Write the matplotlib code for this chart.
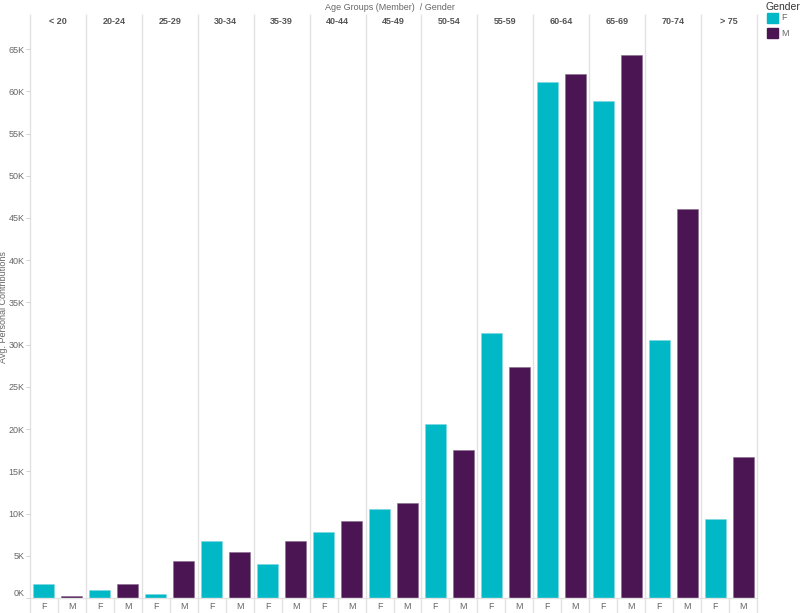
import numpy as np
import matplotlib
matplotlib.use("Agg")
import matplotlib.pyplot as plt
from matplotlib.patches import Rectangle

plt.rcParams['font.family'] = ['Liberation Sans', 'DejaVu Sans']

age_groups = ["< 20", "20-24", "25-29", "30-34", "35-39", "40-44", "45-49",
              "50-54", "55-59", "60-64", "65-69", "70-74", "> 75"]
female = [1.65, 0.95, 0.5, 6.8, 4.05, 7.8, 10.5, 20.6, 31.4, 61.05, 58.8, 30.5, 9.35]
male = [0.2, 1.6, 4.35, 5.45, 6.8, 9.1, 11.3, 17.5, 27.4, 62.1, 64.3, 46.1, 16.7]
female = np.array(female) * 1000
male = np.array(male) * 1000

teal = "#00B8C6"
purple = "#4A1552"
grid_c = "#e2e2e2"
text_c = "#666666"

W, H = 800, 613
fig = plt.figure(figsize=(W / 100, H / 100), dpi=100)
y0, y1 = 598, 28
ax = fig.add_axes([30 / W, (H - y0) / H, 727 / W, (y0 - y1) / H])

n = len(age_groups)
idx = np.arange(n)
ax.bar(idx * 2 + 0.5, female, width=0.75, color=teal, edgecolor="#7fd6de", linewidth=0.4)
ax.bar(idx * 2 + 1.5, male, width=0.75, color=purple, edgecolor="#8a6a90", linewidth=0.4)

ax.set_xlim(0, 2 * n)
ax.set_ylim(0, 67500)

for s in ["top", "right", "left"]:
    ax.spines[s].set_visible(False)
ax.spines["bottom"].set_color(grid_c)
ax.spines["bottom"].set_linewidth(1)

# y axis
yt = np.arange(0, 65001, 5000)
ax.set_yticks(yt)
ax.set_yticklabels([f"{int(v / 1000)}K" for v in yt])
ax.tick_params(axis="y", length=3, width=0.6, color="#cccccc", labelsize=6.5,
               labelcolor=text_c, pad=1)
ax.get_yticklabels()[0].set_va("bottom")
ax.set_ylabel("Avg. Personal Contributions", fontsize=6.5, color=text_c)
ax.yaxis.set_label_coords(-22.5 / 727, 0.51)

# x labels F / M
ax.set_xticks(np.concatenate([idx * 2 + 0.5, idx * 2 + 1.5]))
ax.set_xticklabels(["F"] * n + ["M"] * n)
ax.tick_params(axis="x", length=0, labelsize=6.5, labelcolor=text_c, pad=3)

# panel separators
tr = ax.get_xaxis_transform()
top_frac = (y0 - 14) / (y0 - y1)
bot_frac = (y0 - H) / (y0 - y1)
ax.vlines(np.arange(0, 2 * n + 1, 2), bot_frac, top_frac, transform=tr,
          colors=grid_c, linewidth=1, clip_on=False, zorder=0)
ax.vlines(np.arange(1, 2 * n, 2), bot_frac, 0, transform=tr,
          colors=grid_c, linewidth=1, clip_on=False, zorder=0)

# panel headers
hdr_y = (y0 - 21) / (y0 - y1)
for i, g in enumerate(age_groups):
    ax.text(2 * i + 1, hdr_y, g, transform=tr, ha="center", va="center",
            fontsize=6.5, fontweight="bold", color="#555555")

fig.text(390 / W, 1 - 7 / H, "Age Groups (Member)  / Gender", ha="center", va="center",
         fontsize=6.5, color=text_c)

# legend
fig.text(765 / W, 1 - 7 / H, "Gender", ha="left", va="center", fontsize=7.5, color="#333333")
for k, (lab, c) in enumerate([("F", teal), ("M", purple)]):
    yc = 18 + k * 15
    fig.add_artist(Rectangle((767 / W, 1 - (yc + 5) / H), 11 / W, 10 / H,
                             transform=fig.transFigure, color=c))
    fig.text(781 / W, 1 - yc / H, lab, ha="left", va="center", fontsize=6.5, color=text_c)

fig.savefig("out.png", dpi=100)
